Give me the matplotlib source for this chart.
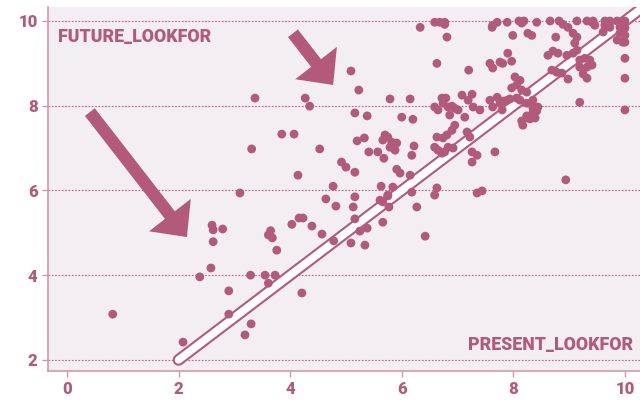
import matplotlib
matplotlib.use("Agg")
import matplotlib.pyplot as plt
from matplotlib.patches import FancyArrowPatch
import numpy as np

# present_lookfor (x) vs future_lookfor (y)
present = [
    0.82, 2.08, 2.38, 2.58, 2.60, 2.62, 2.79, 2.62, 2.90, 2.90, 3.29, 3.30, 3.19, 3.55, 3.61,
    3.73, 3.76, 3.61, 3.65, 3.68, 4.03, 4.16, 4.23, 4.39, 4.21, 3.10, 4.64, 4.82, 5.16, 5.13,
    5.16, 4.57, 4.78, 5.09, 5.34, 5.25, 5.38, 5.61, 5.66, 5.75, 5.66, 5.77, 6.27, 6.18, 6.42,
    3.37, 3.31, 3.85, 4.07, 4.27, 4.35, 4.14, 4.53, 4.77, 4.92, 5.09, 5.23, 5.16, 5.38, 5.79,
    6.15, 6.00, 6.20, 5.20, 5.33, 5.41, 5.57, 5.68, 5.70, 5.75, 5.82, 5.91, 5.66, 5.79, 5.88,
    6.22, 6.18, 5.00, 5.16, 5.63, 5.84, 5.75, 5.91, 5.97, 6.15, 6.33, 6.59, 6.68, 6.77, 6.77,
    6.81, 6.63, 7.20,
    6.59, 6.65, 6.72, 6.79, 6.74, 6.83, 6.90, 6.95, 7.01, 6.86, 7.08, 7.26, 7.19, 7.28, 7.40,
    7.13, 6.95, 6.90, 6.81, 6.74, 6.63, 7.17, 7.22, 6.59, 6.65, 6.72, 6.77, 6.83, 6.92, 7.26,
    7.35, 7.26, 7.67,
    7.63, 7.71, 7.62, 7.89, 8.10, 8.15, 8.19, 7.99, 8.26, 8.33, 8.42, 8.66, 8.82, 8.89, 8.98,
    9.14, 9.32, 9.43, 8.76, 9.07, 9.14, 9.10, 7.90, 7.97, 7.58, 7.63, 7.76, 7.81, 8.62, 8.71,
    8.80, 8.96, 9.07, 9.14, 9.19, 9.28, 9.37, 9.41, 9.32, 9.19, 8.69, 8.78, 8.87, 8.98, 9.25,
    9.32, 10.0, 10.0, 10.0, 9.19, 8.94,
    8.03, 8.12, 8.06, 8.15, 8.24, 7.97, 8.12, 8.24, 8.35, 8.44, 8.35, 8.26, 8.39, 8.17, 7.89,
    7.76, 7.58, 7.63, 7.80, 7.71, 7.82, 7.94, 8.06, 8.35, 8.24, 8.15, 8.30, 8.42,
    7.35, 7.44,
    9.46, 9.41, 9.64, 9.73, 9.86, 9.96, 10.0, 9.64, 9.73, 9.91, 10.0, 9.91, 10.0, 9.86, 9.96,
    10.0, 9.61,
    6.63, 6.59,
]
future = [
    3.08, 2.42, 3.96, 4.17, 5.18, 5.07, 5.09, 4.79, 3.63, 3.08, 4.00, 2.85, 2.59, 4.00, 3.81,
    4.00, 4.59, 4.95, 5.05, 4.88, 5.20, 5.35, 5.35, 5.16, 3.58, 5.94, 5.80, 5.63, 5.85, 5.61,
    5.33, 4.97, 4.81, 4.76, 4.71, 5.04, 5.11, 5.77, 5.73, 5.87, 5.25, 5.61, 5.61, 5.96, 4.92,
    8.18, 6.98, 7.33, 7.33, 8.18, 7.99, 6.36, 6.98, 6.10, 6.67, 8.82, 8.37, 7.83, 7.76, 8.16,
    8.16, 7.73, 7.68, 7.17, 7.24, 6.91, 6.91, 6.76, 7.31, 7.26, 7.14, 7.12, 7.19, 7.02, 6.95,
    7.05, 6.83, 6.55, 6.43, 6.10, 6.08, 5.89, 6.50, 6.41, 6.36, 9.85, 9.97, 9.97, 9.97, 9.92,
    9.62, 9.00, 8.84,
    7.97, 7.90, 8.18, 8.18, 8.06, 7.97, 7.99, 7.94, 7.90, 7.78, 8.25, 8.27, 8.13, 7.97, 7.90,
    7.73, 7.54, 7.42, 7.31, 7.24, 7.26, 7.38, 7.26, 7.02, 6.95, 6.88, 6.91, 7.02, 7.00, 6.91,
    6.83, 6.67, 6.91,
    9.90, 9.97, 9.85, 9.97, 10.0, 9.95, 10.0, 9.66, 9.71, 9.66, 9.97, 10.0, 10.0, 9.92, 9.85,
    10.0, 10.0, 10.0, 9.62, 9.71, 9.62, 9.48, 9.24, 9.05, 9.00, 8.89, 9.03, 9.00, 9.19, 9.29,
    9.24, 9.19, 9.24, 9.31, 9.08, 9.12, 9.08, 8.96, 8.91, 8.91, 8.84, 8.79, 8.77, 8.63, 8.75,
    8.65, 9.12, 8.65, 7.90, 8.08, 6.25,
    8.68, 8.60, 8.49, 8.37, 8.32, 8.42, 8.13, 8.06, 8.13, 7.97, 7.83, 7.71, 7.71, 7.54, 8.13,
    8.06, 8.13, 7.97, 7.90, 8.20, 8.11, 8.16, 8.18, 7.95, 7.76, 7.64, 7.69, 7.88,
    5.94, 5.99,
    9.90, 9.97, 10.0, 10.0, 10.0, 10.0, 10.0, 9.90, 9.85, 9.85, 9.83, 9.71, 9.66, 9.55, 9.50,
    9.50, 9.74,
    6.06, 5.89,
]

x_ticks = [0, 2, 4, 6, 8, 10]
y_ticks = [2, 4, 6, 8, 10]

pink = "#b35a7b"
bg = "#f3eef1"

plt.rcParams['font.family'] = ['Roboto', 'DejaVu Sans']

fig = plt.figure(figsize=(6.4, 4.01), dpi=100)
ax = fig.add_axes([0.075, 0.075, 0.925, 0.9075])
ax.set_facecolor(bg)

ax.set_xlim(-0.34, 10.27)
ax.set_ylim(1.74, 10.33)

for yv in y_ticks:
    ax.axhline(yv, color="#c8607f", lw=0.8, ls=(0, (1.5, 1.5)), zorder=1)

# y = x reference line: outline + white core
ax.plot([2, 11], [2, 11], color=pink, lw=8.5, solid_capstyle="round", zorder=2)
ax.plot([2, 11], [2, 11], color="white", lw=5.5, solid_capstyle="round", zorder=2)

ax.scatter(present, future, s=40, color=pink, edgecolors="none", zorder=3)

# arrows
for tail, head in [((0.41, 7.85), (2.15, 4.90)), ((4.05, 9.71), (4.77, 8.49))]:
    arr = FancyArrowPatch(tail, head, arrowstyle="simple,head_width=38,head_length=20,tail_width=9",
                          mutation_scale=1, color=pink, shrinkA=0, shrinkB=0, lw=0, zorder=4)
    ax.add_patch(arr)

ax.text(0.017, 0.918, "FUTURE_LOOKFOR", transform=ax.transAxes, color=pink,
        fontsize=12.8, fontweight="black", ha="left", va="center")
ax.text(0.988, 0.071, "PRESENT_LOOKFOR", transform=ax.transAxes, color=pink,
        fontsize=12.8, fontweight="black", ha="right", va="center")

ax.set_xticks(x_ticks)
ax.set_yticks(y_ticks)
ax.tick_params(colors="#c89aab", labelcolor=pink, labelsize=12, length=4, width=1)
for lab in ax.get_xticklabels() + ax.get_yticklabels():
    lab.set_fontweight("black")
for s in ["top", "right"]:
    ax.spines[s].set_visible(False)
for s in ["left", "bottom"]:
    ax.spines[s].set_color("#cf9aae")
    ax.spines[s].set_linewidth(1.2)

fig.savefig("out.png", dpi=100)
